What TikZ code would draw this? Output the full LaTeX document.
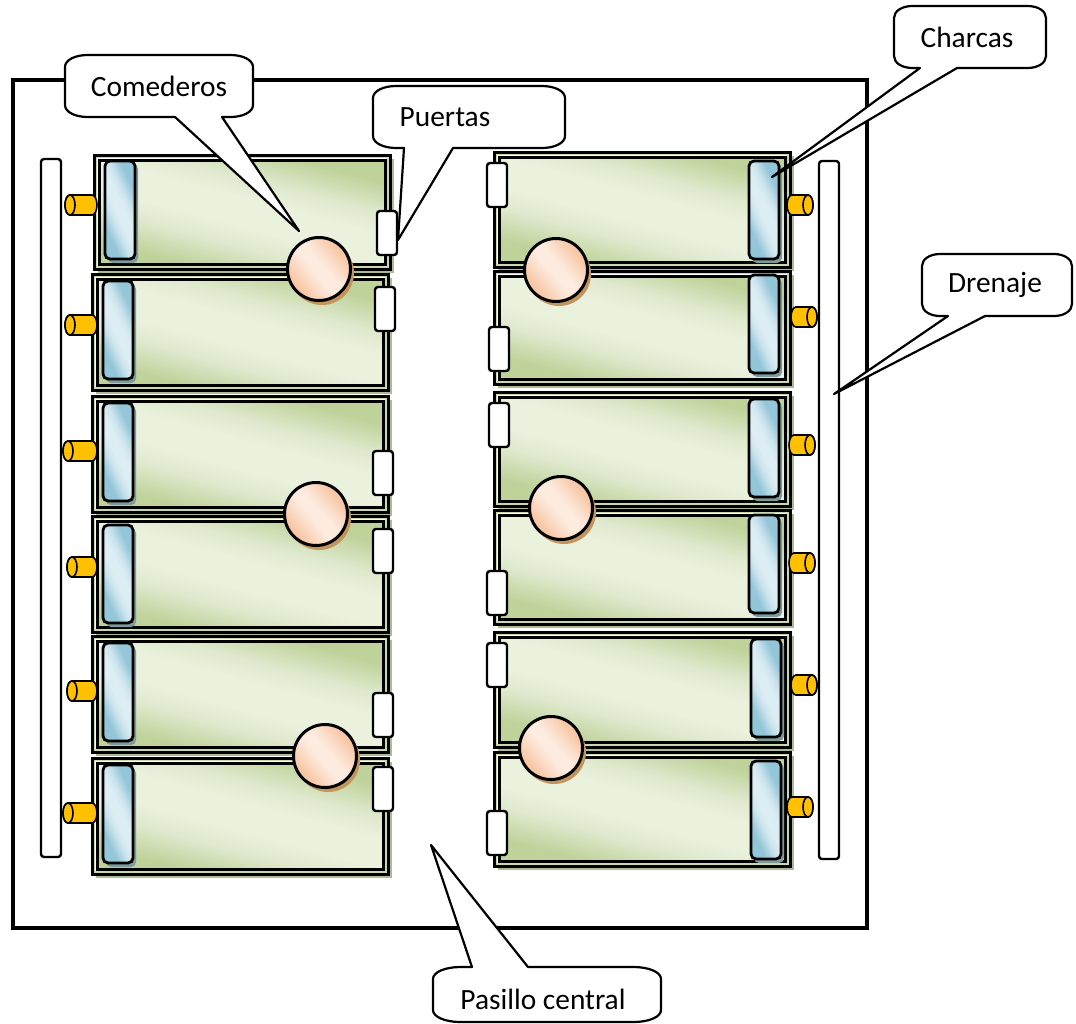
\documentclass[tikz,border=0pt]{standalone}
\usepackage{fontspec}
\setmainfont{Carlito}
\definecolor{penshadowc}{HTML}{AEB998}
\definecolor{penband}{HTML}{C9D7AE}
\definecolor{pengreen}{HTML}{BFD29A}
\definecolor{pengreenm}{HTML}{DFE9CE}
\definecolor{penlight}{HTML}{EAF1DD}
\definecolor{pondb}{HTML}{93C6D8}
\definecolor{pondm}{HTML}{CDE4ED}
\definecolor{pondl}{HTML}{DCEDF3}
\definecolor{pondsh}{HTML}{7F9A9C}
\definecolor{feedb}{HTML}{F8C6A4}
\definecolor{feedm}{HTML}{FBE0CE}
\definecolor{feedl}{HTML}{FDEBDF}
\definecolor{feedsh}{HTML}{C4945F}
\definecolor{cylc}{HTML}{FFC000}
\pgfdeclareverticalshading{pengrad}{100bp}{color(0bp)=(pengreen); color(27bp)=(pengreen); color(38bp)=(pengreenm); color(45bp)=(penlight); color(55bp)=(penlight); color(62bp)=(pengreenm); color(73bp)=(pengreen); color(100bp)=(pengreen)}
\pgfdeclareverticalshading{pondgrad}{100bp}{color(0bp)=(pondb); color(30bp)=(pondb); color(40bp)=(pondm); color(46bp)=(pondl); color(54bp)=(pondl); color(60bp)=(pondm); color(70bp)=(pondb); color(100bp)=(pondb)}
\pgfdeclareverticalshading{feedgrad}{100bp}{color(0bp)=(feedb); color(28bp)=(feedb); color(40bp)=(feedm); color(46bp)=(feedl); color(54bp)=(feedl); color(60bp)=(feedm); color(72bp)=(feedb); color(100bp)=(feedb)}
\begin{document}
\begin{tikzpicture}[x=1pt,y=-1pt,
  frame/.style={draw=black,line width=4pt,fill=white},
  drain/.style={draw=black,line width=2.4pt,fill=white,rounded corners=3pt},
  penshadow/.style={fill=penshadowc},
  penout/.style={draw=black,line width=3pt,fill=penband},
  penwhite/.style={draw=white,line width=0.9pt},
  penin/.style={draw=black,line width=3pt,shading=pengrad,shading angle=-15},
  pond/.style={draw=black,line width=2.8pt,rounded corners=5pt,shading=pondgrad,shading angle=-65},
  pondshadow/.style={fill=pondsh,rounded corners=5pt},
  door/.style={draw=black,line width=2.4pt,fill=white,rounded corners=3pt},
  feeder/.style={draw=black,line width=3pt,shading=feedgrad,shading angle=-50},
  feedershadow/.style={fill=feedsh},
  cyl/.style={draw=black,line width=1.6pt,fill=cylc},
  call/.style={draw=black,line width=2.2pt,fill=white,line join=round},
  calltext/.style={font=\fontsize{29.4}{33}\selectfont,text=black,inner sep=0pt}
]
\newcommand{\calloutB}[8]{% x1,y1,x2,y2,ax,tx,ty,bx ; tail on the lower side
  \pgfmathsetmacro\crx{0.12*(#3-#1)}
  \draw[call] (#1,#2+12) .. controls (#1,#2+5) and (#1+0.45*\crx,#2) .. (#1+\crx,#2)
    -- (#3-\crx,#2) .. controls (#3-0.45*\crx,#2) and (#3,#2+5) .. (#3,#2+12)
    -- (#3,#4-12) .. controls (#3,#4-5) and (#3-0.45*\crx,#4) .. (#3-\crx,#4)
    -- (#8,#4) -- (#6,#7) -- (#5,#4)
    -- (#1+\crx,#4) .. controls (#1+0.45*\crx,#4) and (#1,#4-5) .. (#1,#4-12) -- cycle;
}
\newcommand{\calloutT}[8]{% tail on the upper side
  \pgfmathsetmacro\crx{0.12*(#3-#1)}
  \draw[call] (#1,#2+12) .. controls (#1,#2+5) and (#1+0.45*\crx,#2) .. (#1+\crx,#2)
    -- (#5,#2) -- (#6,#7) -- (#8,#2)
    -- (#3-\crx,#2) .. controls (#3-0.45*\crx,#2) and (#3,#2+5) .. (#3,#2+12)
    -- (#3,#4-12) .. controls (#3,#4-5) and (#3-0.45*\crx,#4) .. (#3-\crx,#4)
    -- (#1+\crx,#4) .. controls (#1+0.45*\crx,#4) and (#1,#4-5) .. (#1,#4-12) -- cycle;
}
\useasboundingbox (0,0) rectangle (1076,1023);
\fill[white] (0,0) rectangle (1076,1023);
% outer frame
\draw[frame] (13,80) rectangle (867,928);
% drains
\draw[drain] (41,159) rectangle (61,857);
\draw[drain] (819,161) rectangle (839,859);
% pens: x1, y1, x2, y2
\foreach \xa/\ya/\xb/\yb in {
  94/155/390/269, 92/274/388/390, 92/396/388/512, 92/516/388/632, 92/636/388/752, 92/758/388/874,
  494/152/790/267, 494/271/790/384, 494/392/790/506, 494/510/790/624, 494/632/790/747, 494/752/790/866}{
  \fill[penshadow] (\xa+4,\ya+4) rectangle (\xb+4,\yb+4);
  \draw[penout] (\xa,\ya) rectangle (\xb,\yb);
  \draw[penwhite] (\xa+3.2,\ya+3.2) rectangle (\xb-3.2,\yb-3.2);
  \shade[penin] (\xa+5,\ya+5) rectangle (\xb-5,\yb-5);
}
% ponds
\foreach \xa/\ya in {105/161,103/281,103/403,103/525,103/643,103/765,
  749/161,749/275,749/399,749/515,751/639,751/761}{
  \fill[pondshadow] (\xa+3,\ya+3) rectangle (\xa+33,\ya+102);
  \shade[pond] (\xa,\ya) rectangle (\xa+30,\ya+98);
}
% doors
\foreach \xa/\ya in {377/211,375/287,373/451,373/529,373/693,373/767,
  487/163,489/327,489/403,487/571,487/643,487/811}{
  \draw[door] (\xa,\ya) rectangle (\xa+20,\ya+44);
}
% feeders
\foreach \cx/\cy in {319/269,316/514,325/756,556/270,561/508,551/748}{
  \fill[feedershadow] (\cx+3,\cy+4) circle (32);
  \shade[feeder] (\cx,\cy) circle (31.5);
}
% inlet cylinders, left side
\foreach \xl/\cy in {70/205,70/325,68/451,72/567,72/691,68/813}{
  \draw[cyl] (\xl,\cy-10) -- (92,\cy-10) arc[start angle=-90,end angle=90,x radius=5,y radius=10]
     -- (\xl,\cy+10) arc[start angle=90,end angle=270,x radius=5,y radius=10] -- cycle;
  \draw[cyl] (\xl,\cy) ellipse[x radius=5,y radius=10];
}
% inlet cylinders, right side
\foreach \xl/\xr/\cy in {787/808/205,791/812/317,789/810/445,789/810/563,791/812/685,787/808/807}{
  \draw[cyl] (\xl+5,\cy-10) -- (\xr,\cy-10) arc[start angle=-90,end angle=90,x radius=5,y radius=10]
     -- (\xl+5,\cy+10) arc[start angle=90,end angle=270,x radius=5,y radius=10] -- cycle;
  \draw[cyl] (\xr,\cy) ellipse[x radius=5,y radius=10];
}
% callouts
\calloutB{65}{55}{253}{117}{175}{299}{231}{222}
\node[calltext] (comederos) at (159,86) {Comederos};
\calloutB{373}{86}{565}{148}{404}{398}{240}{453}
\node[calltext] (puertas) at (445,117) {Puertas};
\calloutB{894}{6}{1046}{68}{920}{772}{177}{957}
\node[calltext] (charcas) at (967,37) {Charcas};
\calloutB{922}{254}{1072}{316}{948}{834}{394}{985}
\node[calltext] (drenaje) at (995,285) {Drenaje};
\calloutT{433}{967}{661}{1022}{472}{431}{845}{528}
\node[calltext] (pasillo) at (543,999) {Pasillo central};
\end{tikzpicture}
\end{document}
